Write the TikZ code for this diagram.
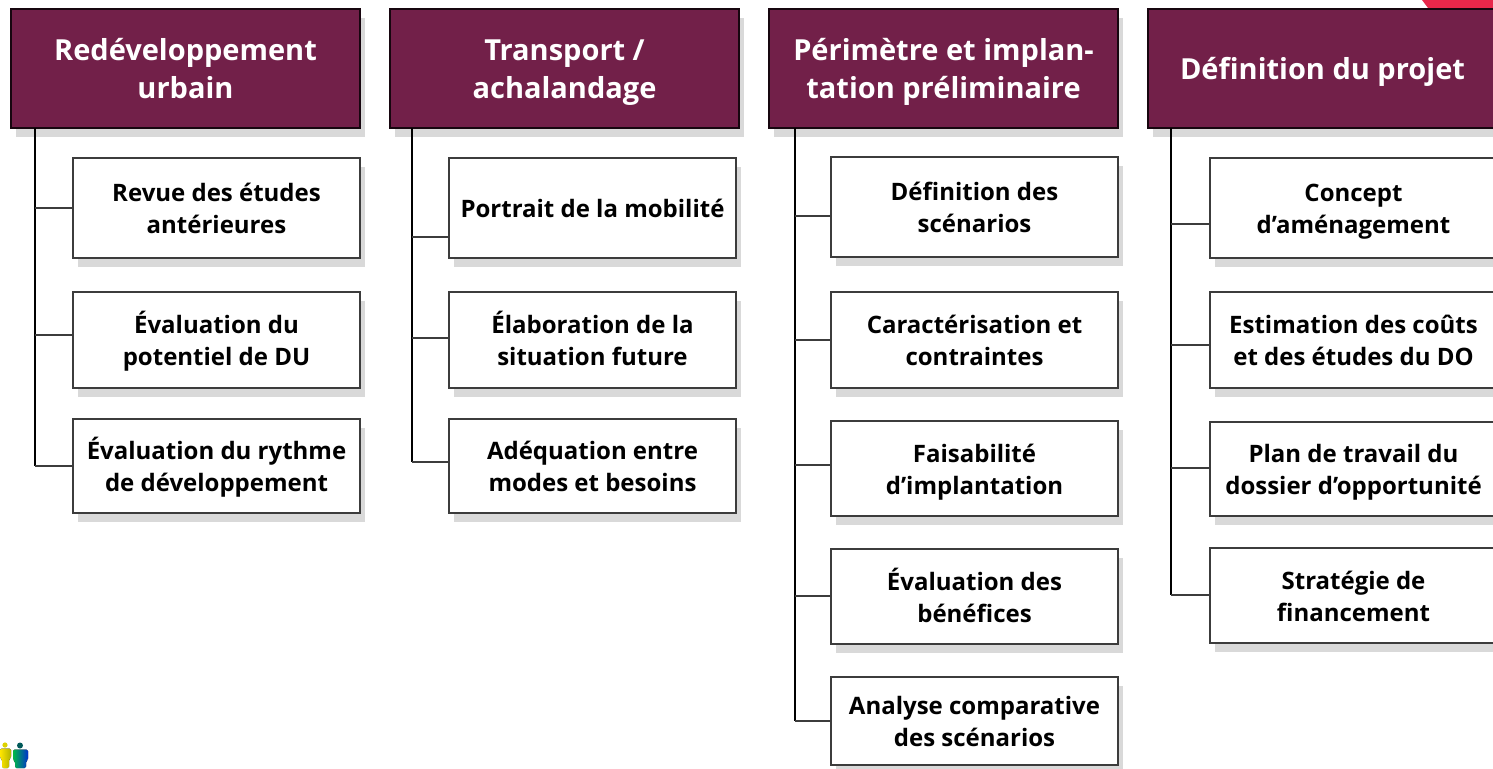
\documentclass[tikz,border=0pt]{standalone}
\usepackage{fontspec}
\setmainfont{Open Sans}
\usetikzlibrary{shadows}
\definecolor{hdrcol}{HTML}{722049}
\definecolor{cornercol}{HTML}{E8274A}
\definecolor{linecol}{HTML}{3C3C3C}
\newcommand{\lnstrut}{\rule[-.2\baselineskip]{0pt}{\baselineskip}}
\tikzset{%
    boxshadow/.style={drop shadow={shadow xshift=5pt,shadow yshift=-9pt,fill=black!15,opacity=1}},
    hdr/.style={rectangle,draw=black!80!hdrcol,fill=hdrcol,text=white,line width=1.2pt,minimum width=349pt,minimum height=119pt,align=center,inner sep=0pt,boxshadow,font=\fontsize{29}{38}\selectfont\bfseries},
    sub/.style={rectangle,draw=linecol,fill=white,text=black,line width=1.2pt,minimum width=287pt,align=center,inner sep=0pt,boxshadow,font=\fontsize{24}{32}\selectfont\bfseries},
    trunk/.style={draw=black,line width=1.5pt},
    branch/.style={draw=linecol,line width=1.2pt}
}
\begin{document}
\begin{tikzpicture}[x=1pt,y=-1pt]
        \useasboundingbox (0,0) rectangle (1493,768);
        \clip (0,0) rectangle (1493,768);

        \fill[cornercol] (1422,0) -- (1428,8) -- (1493,8) -- (1493,0) -- cycle;

        \node[hdr] (h1) at (185.5,68.5){Redéveloppement\lnstrut\\urbain\lnstrut};
        \node[hdr] (h2) at (564.5,68.5){Transport /\lnstrut\\achalandage\lnstrut};
        \node[hdr] (h3) at (943.5,68.5){Périmètre et implan-\lnstrut\\tation préliminaire\lnstrut};
        \node[hdr] (h4) at (1322.5,68.5){Définition du projet\lnstrut};

        \coordinate (t1) at (35,128);
        \coordinate (t2) at (412,128);
        \coordinate (t3) at (795,128);
        \coordinate (t4) at (1171,128);
        \coordinate (e1) at (35,466);
        \coordinate (e2) at (412,462);
        \coordinate (e3) at (795,721);
        \coordinate (e4) at (1171,595);

        \draw[trunk] (t1) -- (e1);
        \draw[trunk] (t2) -- (e2);
        \draw[trunk] (t3) -- (e3);
        \draw[trunk] (t4) -- (e4);

        \node[sub,minimum height=100pt] (a1) at (216.5,208){Revue des études\lnstrut\\antérieures\lnstrut};
        \node[sub,minimum height=96pt] (a2) at (216.5,340){Évaluation du\lnstrut\\potentiel de DU\lnstrut};
        \node[sub,minimum height=94pt] (a3) at (216.5,466){Évaluation du rythme\lnstrut\\de développement\lnstrut};

        \node[sub,minimum height=100pt] (b1) at (592.5,208){Portrait de la mobilité\lnstrut};
        \node[sub,minimum height=96pt] (b2) at (592.5,340){Élaboration de la\lnstrut\\situation future\lnstrut};
        \node[sub,minimum height=94pt] (b3) at (592.5,466){Adéquation entre\lnstrut\\modes et besoins\lnstrut};

        \node[sub,minimum height=100pt] (c1) at (974.5,207){Définition des\lnstrut\\scénarios\lnstrut};
        \node[sub,minimum height=96pt] (c2) at (974.5,340){Caractérisation et\lnstrut\\contraintes\lnstrut};
        \node[sub,minimum height=95pt] (c3) at (974.5,468.5){Faisabilité\lnstrut\\d’implantation\lnstrut};
        \node[sub,minimum height=95pt] (c4) at (974.5,596.5){Évaluation des\lnstrut\\bénéfices\lnstrut};
        \node[sub,minimum height=88pt] (c5) at (974.5,721){Analyse comparative\lnstrut\\des scénarios\lnstrut};

        \node[sub,minimum height=100pt] (d1) at (1353.5,208){Concept\lnstrut\\d’aménagement\lnstrut};
        \node[sub,minimum height=96pt] (d2) at (1353.5,340){Estimation des coûts\lnstrut\\et des études du DO\lnstrut};
        \node[sub,minimum height=94pt] (d3) at (1353.5,469){Plan de travail du\lnstrut\\dossier d’opportunité\lnstrut};
        \node[sub,minimum height=95pt] (d4) at (1353.5,595.5){Stratégie de\lnstrut\\financement\lnstrut};

        \draw[branch] (t1 |- a1.west) -- (a1.west);
        \draw[branch] (t1 |- 0,335) -- (a2.west |- 0,335);
        \draw[branch] (e1) -- (a3.west);
        \draw[branch] (t2 |- 0,237) -- (b1.west |- 0,237);
        \draw[branch] (t2 |- 0,338) -- (b2.west |- 0,338);
        \draw[branch] (e2) -- (b3.west |- e2);
        \draw[branch] (t3 |- 0,216) -- (c1.west |- 0,216);
        \draw[branch] (t3 |- 0,340) -- (c2.west);
        \draw[branch] (t3 |- 0,465) -- (c3.west |- 0,465);
        \draw[branch] (t3 |- 0,596) -- (c4.west |- 0,596);
        \draw[branch] (e3) -- (c5.west);
        \draw[branch] (t4 |- 0,224) -- (d1.west |- 0,224);
        \draw[branch] (t4 |- 0,345) -- (d2.west |- 0,345);
        \draw[branch] (t4 |- 0,468) -- (d3.west |- 0,468);
        \draw[branch] (e4) -- (d4.west |- e4);

        \fill[yellow!70!olive] (5,745) circle (2.6);
        \fill[left color=yellow!80!orange,right color=olive!60!yellow,rounded corners=1.5pt] (0,748.5) -- (11,748.5) -- (11,758) -- (9,759) -- (9,768) -- (2,768) -- (2,759) -- (0,758) -- cycle;
        \fill[teal!70!black] (20,745.5) circle (3);
        \fill[left color=green!45!teal,right color=blue!60!teal,rounded corners=1.5pt] (13,749.5) -- (28,749.5) -- (28,760) -- (26,761) -- (26,768) -- (15,768) -- (15,761) -- (13,760) -- cycle;
    \end{tikzpicture}
\end{document}
